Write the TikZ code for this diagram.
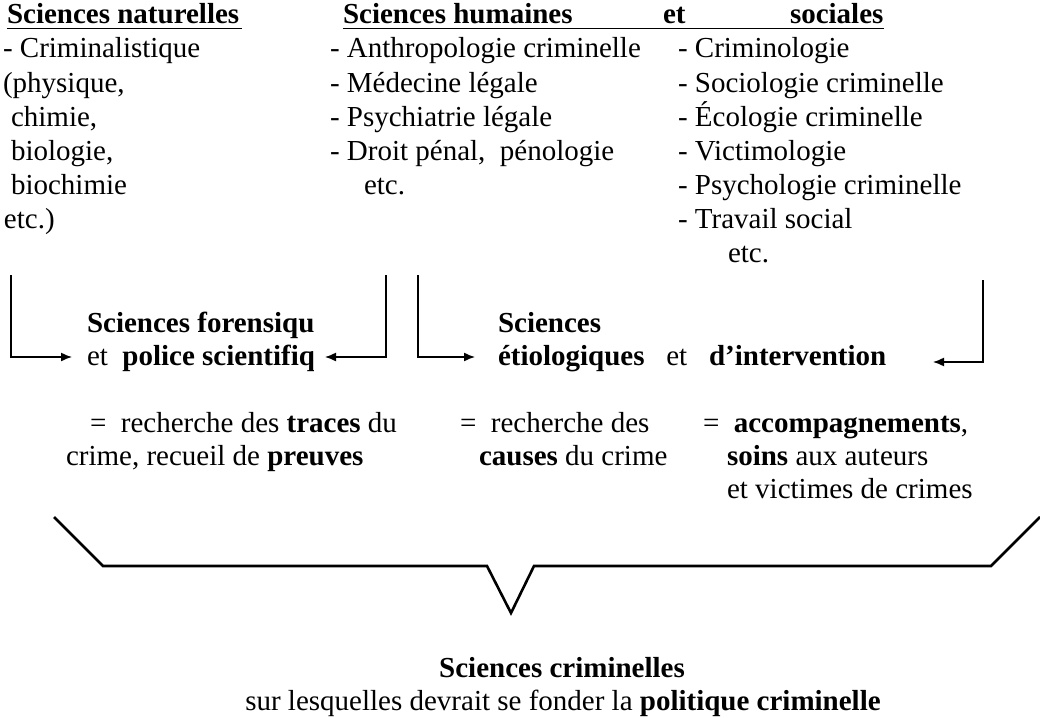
\documentclass[tikz,border=0pt]{standalone}
\usepackage{fontspec}
\setmainfont{Liberation Serif}
\usetikzlibrary{arrows.meta}
\begin{document}
\begin{tikzpicture}[x=1pt,y=-1pt,
  txt/.style={anchor=base west,inner sep=0pt,outer sep=0pt,font=\fontsize{29}{29}\selectfont},
  ctr/.style={anchor=base,inner sep=0pt,outer sep=0pt,font=\fontsize{29}{29}\selectfont},
  conn/.style={line width=1.4pt,-{Latex[length=11pt,width=9pt]}},
  ul/.style={line width=1.8pt},
  bracestyle/.style={line width=2.6pt,line join=miter}]
\useasboundingbox (0,0) rectangle (1040,717);
% headers
\node[txt] (h1) at (7,24) {\textbf{Sciences naturelles}};
\draw[ul] (7,28.5) -- (242,28.5);
\node[txt] (h2) at (343,24) {\textbf{Sciences humaines}};
\node[txt] (h2et) at (663,24) {\textbf{et}};
\node[txt] (h2soc) at (790,24) {\textbf{sociales}};
\draw[ul] (343,28.5) -- (884,28.5);
% column 1
\node[txt] (c1a) at (3,58) {- Criminalistique};
\node[txt] (c1b) at (3,92) {(physique,};
\node[txt] (c1c) at (11,126) {chimie,};
\node[txt] (c1d) at (11,160) {biologie,};
\node[txt] (c1e) at (11,194) {biochimie};
\node[txt] (c1f) at (4,228) {etc.)};
% column 2
\node[txt] (c2a) at (330,58) {- Anthropologie criminelle};
\node[txt] (c2b) at (330,92) {- Médecine légale};
\node[txt] (c2c) at (330,126) {- Psychiatrie légale};
\node[txt] (c2d) at (330,160) {- Droit pénal,\ \ pénologie};
\node[txt] (c2e) at (364,194) {etc.};
% column 3
\node[txt] (c3a) at (678,58) {- Criminologie};
\node[txt] (c3b) at (678,92) {- Sociologie criminelle};
\node[txt] (c3c) at (678,126) {- Écologie criminelle};
\node[txt] (c3d) at (678,160) {- Victimologie};
\node[txt] (c3e) at (678,194) {- Psychologie criminelle};
\node[txt] (c3f) at (678,228) {- Travail social};
\node[txt] (c3g) at (728,262) {etc.};
% middle texts
\begin{scope}
\clip (80,300) rectangle (313,385);
\node[txt] (m1a) at (87,332) {\textbf{Sciences forensiqu}};
\node[txt] (m1b) at (87,365) {et\ \ \textbf{police scientifiq}};
\end{scope}
\node[txt] (m2a) at (498,332) {\textbf{Sciences}};
\node[txt] (m2b) at (498,365) {\textbf{étiologiques}\ \ \ et\ \ \ \textbf{d'intervention}};
% bracket arrows
\coordinate (a1s) at (11,275);  \coordinate (a1e) at (72,357);
\coordinate (a2s) at (386,275); \coordinate (a2e) at (325,357);
\coordinate (a3s) at (418,275); \coordinate (a3e) at (475,357);
\coordinate (a4s) at (983,280); \coordinate (a4e) at (933,362);
\draw[conn] (a1s) |- (a1e);
\draw[conn] (a2s) |- (a2e);
\draw[conn] (a3s) |- (a3e);
\draw[conn] (a4s) |- (a4e);
% lower texts
\node[txt] (l1a) at (90,432) {=\ \ recherche des \textbf{traces} du};
\node[txt] (l1b) at (66,465) {crime, recueil de \textbf{preuves}};
\node[txt] (l2a) at (460,432) {=\ \ recherche des};
\node[txt] (l2b) at (479,465) {\textbf{causes} du crime};
\node[txt] (l3a) at (703,432) {=\ \ \textbf{accompagnements},};
\node[txt] (l3b) at (727,465) {\textbf{soins} aux auteurs};
\node[txt] (l3c) at (727,498) {et victimes de crimes};
% brace
\draw[bracestyle] (54,517) -- (103,566) -- (487,566) -- (511,613) -- (534,566) -- (991,566) -- (1040,517);
% bottom
\node[ctr] (b1) at (562,677) {\textbf{Sciences criminelles}};
\node[ctr] (b2) at (563,710) {sur lesquelles devrait se fonder la \textbf{politique criminelle}};
\end{tikzpicture}
\end{document}
